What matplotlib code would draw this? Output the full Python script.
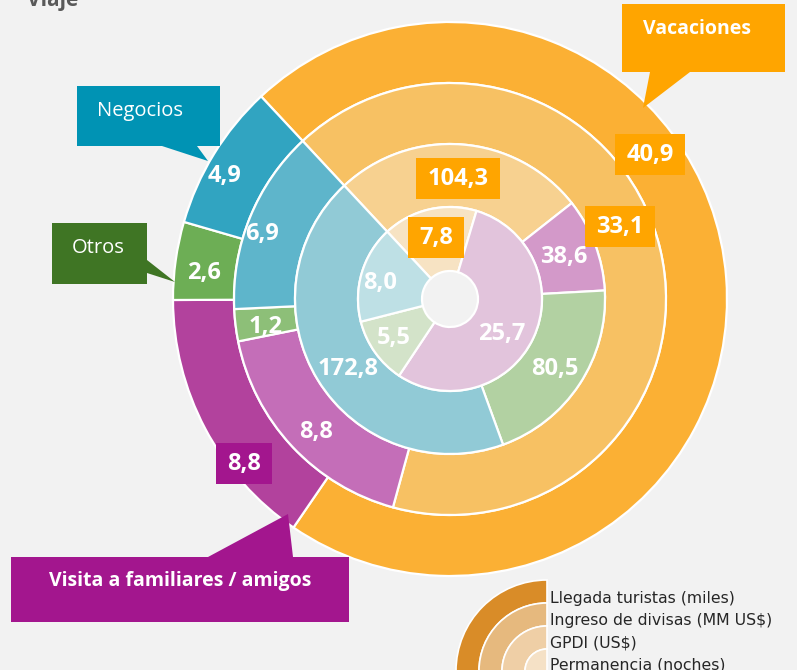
import matplotlib.pyplot as plt
from matplotlib.patches import Polygon, Rectangle, Wedge

W, H = 797, 670

# orden horario de los segmentos, empezando por Vacaciones
categorias = ['Vacaciones', 'Visita a familiares / amigos', 'Otros', 'Negocios']
llegada = [40.9, 8.8, 2.6, 4.9]          # Llegada turistas (miles)
ingreso = [33.1, 8.8, 1.2, 6.9]          # Ingreso de divisas (MM US$)
gpdi = [104.3, 38.6, 80.5, 172.8]        # GPDI (US$)
permanencia = [7.8, 25.7, 5.5, 8.0]      # Permanencia (noches)

series_leyenda = ['Llegada turistas (miles)', 'Ingreso de divisas (MM US$)',
                  'GPDI (US$)', 'Permanencia (noches)']

colores = [
    ['#FBB034', '#B2429D', '#6DAE55', '#31A4C1'],
    ['#F7C163', '#C46EB8', '#8DBF78', '#5EB5CB'],
    ['#F7D190', '#D399C9', '#B2D1A2', '#91CAD6'],
    ['#F7E3C3', '#E2C4DC', '#D3E3C9', '#BEE0E5'],
]

BG = '#F2F2F2'
NARANJA = '#FFA500'


def P(x, y):
    # coordenadas en pixeles con el origen arriba a la izquierda
    return (x, H - y)


fig = plt.figure(figsize=(W / 100, H / 100), dpi=100, facecolor=BG)
ax = fig.add_axes([0, 0, 1, 1])
ax.set_facecolor(BG)

centro = P(450, 299)
radios = [277, 216, 155, 92, 28]
anillos = [llegada, ingreso, gpdi, permanencia]

for i, valores in enumerate(anillos):
    ax.pie(valores, radius=radios[i], center=centro, startangle=133,
           counterclock=False, colors=colores[i],
           wedgeprops=dict(width=radios[i] - radios[i + 1],
                           edgecolor='white', linewidth=1.6))

ax.set_xlim(0, W)
ax.set_ylim(0, H)
ax.set_aspect('equal')
ax.axis('off')

fuente = 'Open Sans'

# etiquetas de valores (texto, x, y, caja)
etiquetas = [
    ('40,9', 650, 154, NARANJA), ('4,9', 225, 175, None),
    ('2,6', 204, 272, None), ('8,8', 244, 463, '#A3168E'),
    ('33,1', 620, 226, NARANJA), ('6,9', 262, 233, None),
    ('1,2', 266, 326, None), ('8,8', 316, 431, None),
    ('104,3', 458, 178, NARANJA), ('38,6', 564, 256, None),
    ('80,5', 555, 368, None), ('172,8', 348, 368, None),
    ('7,8', 436, 237, NARANJA), ('25,7', 502, 333, None),
    ('5,5', 394, 337, None), ('8,0', 380, 282, None),
]
for txt, x, y, caja in etiquetas:
    if caja is not None:
        bw = 14 * len(txt) - 6 + 20
        ax.add_patch(Rectangle(P(x - bw / 2, y + 21), bw, 41,
                               facecolor=caja, edgecolor='none', zorder=3))
    ax.text(*P(x, y + 1), txt, ha='center', va='center', color='white',
            fontsize=17, fontweight='bold', family=fuente, zorder=4)

# llamadas con el nombre de cada motivo de viaje
llamadas = [
    ('Vacaciones', [(622, 4), (785, 4), (785, 72), (690, 72), (643, 108),
                    (650, 72), (622, 72)], NARANJA, (697, 29), 'bold'),
    ('Negocios', [(77, 86), (220, 86), (220, 146), (197, 146), (208, 161),
                  (162, 146), (77, 146)], '#0093B4', (140, 111), 'normal'),
    ('Otros', [(52, 223), (147, 223), (147, 260), (175, 282), (147, 273),
               (147, 284), (52, 284)], '#3F7524', (98, 248), 'normal'),
    ('Visita a familiares / amigos', [(11, 557), (208, 557), (288, 514),
                                      (293, 557), (349, 557), (349, 622),
                                      (11, 622)], '#A3168E', (180, 581), 'bold'),
]
for txt, pts, color, pos, peso in llamadas:
    ax.add_patch(Polygon([P(x, y) for x, y in pts], closed=True,
                         facecolor=color, edgecolor='none', zorder=5))
    ax.text(*P(*pos), txt, ha='center', va='center', color='white',
            fontsize=14.5 if peso == 'normal' else 14, fontweight=peso,
            family=fuente, zorder=6)

# titulo cortado arriba
ax.text(*P(27, 6), 'Viaje', ha='left', va='baseline', color='#595959',
        fontsize=15, fontweight='bold', family=fuente)

# leyenda con cuartos de anillo
col_leyenda = ['#D98C28', '#E6B97E', '#EFCFA6', '#F5E1C6']
c_ley = P(547, 671)
for j, r in enumerate([91, 68, 45, 22]):
    ax.add_patch(Wedge(c_ley, r, 90, 180, width=23, facecolor=col_leyenda[j],
                       edgecolor='white', linewidth=1.2, zorder=2))
for j, txt in enumerate(series_leyenda):
    ax.text(*P(550, 603 + 22 * j), txt, ha='left', va='baseline',
            color='#262626', fontsize=11.3, family='DejaVu Sans')

fig.savefig('out.png', dpi=100, facecolor=BG)
